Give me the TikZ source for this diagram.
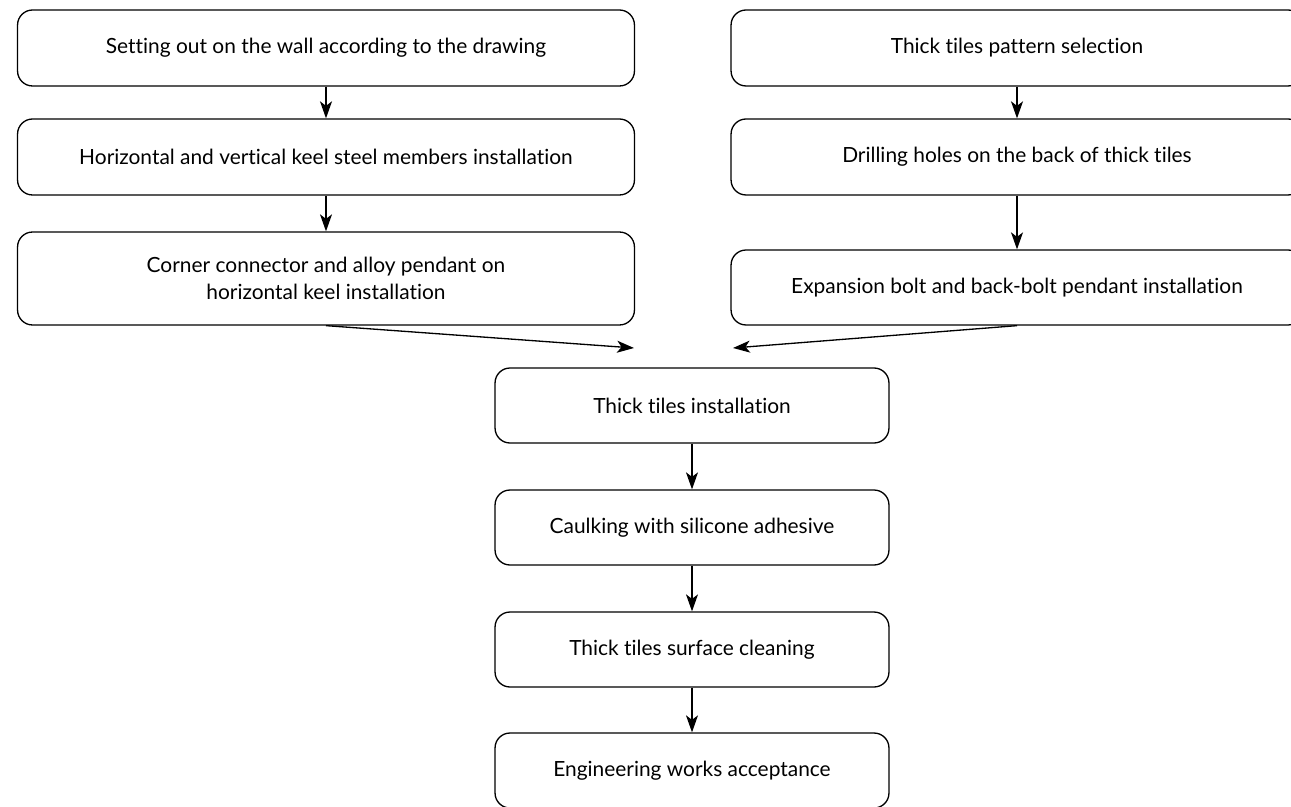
\documentclass[tikz,border=0pt]{standalone}
\usepackage{fontspec}
\setmainfont{Lato}[Ligatures={NoCommon,NoRare}]
\usepackage{tikz}
\usetikzlibrary{arrows.meta,positioning}

\begin{document}
\begin{tikzpicture}[
    x=0.02cm, y=-0.02cm,
    stage/.style={draw, line width=0.75pt, rounded corners=0.3cm, align=center, inner sep=0pt, font=\fontsize{11.9}{15}\selectfont},
    wide/.style={stage, minimum width=12.34cm, minimum height=1.52cm},
    side/.style={stage, minimum width=11.44cm, minimum height=1.52cm},
    mid/.style={stage, minimum width=7.88cm, minimum height=1.5cm},
    edge/.style={-{Stealth[length=3.4mm, width=2.4mm, inset=0.9mm]}, line width=0.75pt}
]
    \clip (0,0) rectangle (1291,807);
    \useasboundingbox (0,0) rectangle (1291,807);

    % left column
    \node[wide] (setout) at (326,48) {Setting out on the wall according to the drawing};
    \node[wide] (keel) at (326,157) {Horizontal and vertical keel steel members installation};
    \node[wide, minimum height=1.86cm] (pendant) at (326,278.5) {Corner connector and alloy pendant on\\horizontal keel installation};

    % right column
    \node[side] (pattern) at (1017,48) {Thick tiles pattern selection};
    \node[side] (drill) at (1017,157) {Drilling holes on the back of thick tiles};
    \node[side, minimum height=1.5cm] (bolt) at (1017,287.5) {Expansion bolt and back-bolt pendant installation};

    % centre column
    \node[mid] (tiles) at (692,405.5) {Thick tiles installation};
    \node[mid] (caulk) at (692,527.5) {Caulking with silicone adhesive};
    \node[mid] (clean) at (692,649.5) {Thick tiles surface cleaning};
    \node[mid] (accept) at (692,770.5) {Engineering works acceptance};

    \coordinate (joinL) at (634,348);
    \coordinate (joinR) at (733,348);

    \draw[edge] (setout) -- (keel);
    \draw[edge] (keel) -- (pendant);
    \draw[edge] (pattern) -- (drill);
    \draw[edge] (drill) -- (bolt);
    \draw[edge] (pendant.south) -- (joinL);
    \draw[edge] (bolt.south) -- (joinR);
    \draw[edge] (tiles) -- (caulk);
    \draw[edge] (caulk) -- (clean);
    \draw[edge] (clean) -- (accept);
\end{tikzpicture}
\end{document}
